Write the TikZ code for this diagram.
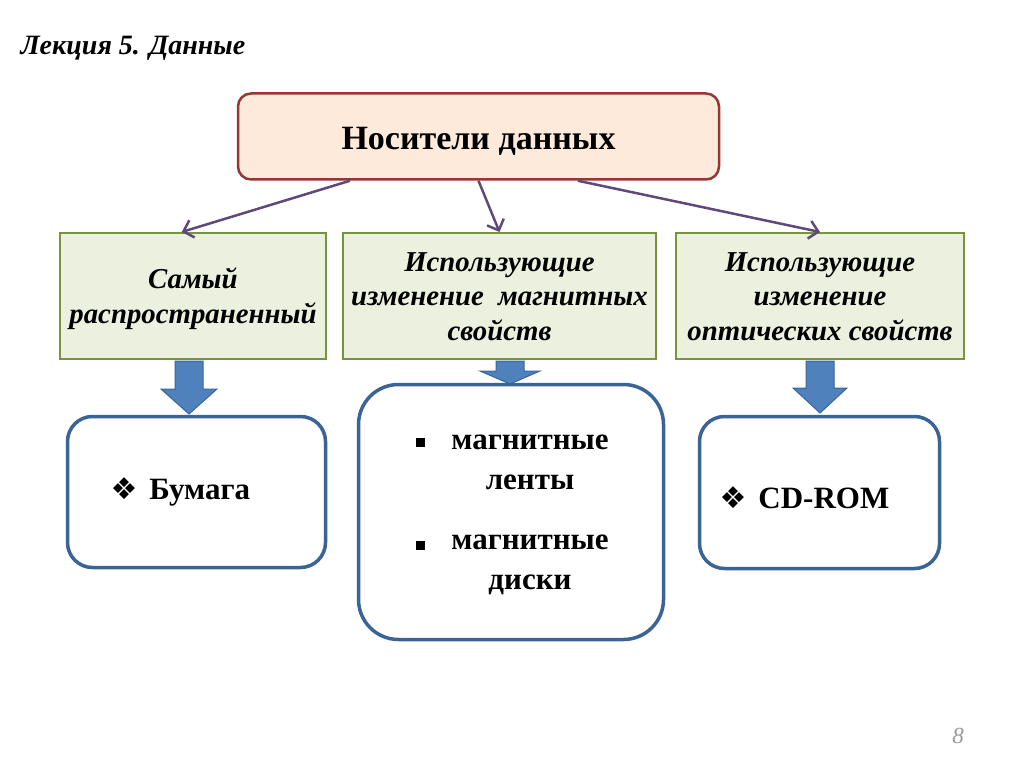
\documentclass[tikz,border=0pt]{standalone}
\usepackage{fontspec}
\setmainfont{Liberation Serif}
\newfontfamily\symfont{DejaVu Sans}
\usetikzlibrary{positioning,calc,arrows.meta}

\definecolor{peach}{HTML}{FDEADA}
\definecolor{redline}{HTML}{953735}
\definecolor{greenfill}{HTML}{EBF1DE}
\definecolor{greenline}{HTML}{77933C}
\definecolor{purpleline}{HTML}{5F497A}
\definecolor{bluefill}{HTML}{4F81BD}
\definecolor{blueline}{HTML}{3B6496}

\tikzset{
  topbox/.style={draw=redline, fill=peach, line width=2.5pt, rounded corners=13pt, minimum width=481pt, minimum height=86pt, font=\fontsize{34}{38}\selectfont\bfseries},
  kindbox/.style={draw=greenline, fill=greenfill, line width=2pt, minimum height=126pt, align=center, font=\fontsize{28.8}{34.5}\selectfont\bfseries\itshape},
  mediabox/.style={draw=blueline, line width=3.5pt, fill=white},
  mediatext/.style={font=\fontsize{31}{40}\selectfont\bfseries, align=center},
  link/.style={draw=purpleline, line width=2.5pt, -{Straight Barb[length=9pt,width=18pt]}},
  fatarrow/.style={draw=blueline, fill=bluefill, line width=1pt},
}

% blue arrow: tip, source node, head length, head half width
\newcommand{\fatarrow}[4]{%
  \draw[fatarrow] ($(#1 |- #2.south)+(-14,1)$) -- ($(#1)+(-14,-#3)$) -- ($(#1)+(-#4,-#3)$) -- (#1)
    -- ($(#1)+(#4,-#3)$) -- ($(#1)+(14,-#3)$) -- ($(#1 |- #2.south)+(14,1)$) -- cycle;}
\newcommand{\orn}{{\symfont\fontsize{30}{30}\selectfont ❖}\hspace{12pt}}
% text set a little lower in its box
\newcommand{\dropped}[2]{\raisebox{-#1}[\height][\depth]{\begin{tabular}{@{}c@{}}#2\end{tabular}}}

\begin{document}
\begin{tikzpicture}[x=1pt, y=-1pt]
  \useasboundingbox (0,0) rectangle (1024,767);

  \node[anchor=west, font=\fontsize{28}{30}\selectfont\bfseries\itshape] (title) at (17,48) {Лекция 5. Данные};

  % top level
  \node[topbox] (carrier) at (478.5,136.5) {\dropped{5pt}{Носители данных}};

  % kinds of media
  \node[kindbox, minimum width=266pt] (common) at (193,296) {\dropped{3pt}{Самый\\распространенный}};
  \node[kindbox, minimum width=313pt] (magnetic) at (499.5,296) {\dropped{3pt}{Использующие\\изменение\ \ магнитных\\свойств}};
  \node[kindbox, minimum width=288pt] (optical) at (820,296) {\dropped{3pt}{Использующие\\изменение\\оптических свойств}};

  \draw[link] (carrier.199) -- (common.100);
  \draw[link] (carrier.south) -- (magnetic.north);
  \draw[link] (carrier.336) -- (optical.north);

  % examples
  \node[mediabox, rounded corners=25pt, minimum width=258pt, minimum height=151pt] (paper) at (196.5,492) {};
  \node[mediabox, rounded corners=40pt, minimum width=305pt, minimum height=255pt] (tapes) at (511,512) {};
  \node[mediabox, rounded corners=25pt, minimum width=240pt, minimum height=152pt] (disc) at (819.5,492.5) {};

  \node[mediatext, anchor=west] (paperitem) at (107,492) {\orn Бумага};
  \node[mediatext] (tapeitem) at (530,462) {магнитные\\ленты};
  \node[mediatext] (diskitem) at (530,565) {магнитные\\диски};
  \node[fill, minimum size=9pt, inner sep=0pt] (tapedot) at (420,442) {};
  \node[fill, minimum size=9pt, inner sep=0pt] (diskdot) at (420,545) {};
  \node[mediatext, anchor=west] (discitem) at (716,498) {\orn CD-ROM};

  \coordinate (paperin) at (189,414);
  \coordinate (tapein) at (510,384);
  \coordinate (discin) at (820,413);
  \fatarrow{paperin}{common}{25}{28}
  \fatarrow{tapein}{magnetic}{13}{30}
  \fatarrow{discin}{optical}{25}{27}

  \node[text=gray!80, font=\fontsize{23}{24}\selectfont\itshape] (page) at (958,736) {8};
\end{tikzpicture}
\end{document}
